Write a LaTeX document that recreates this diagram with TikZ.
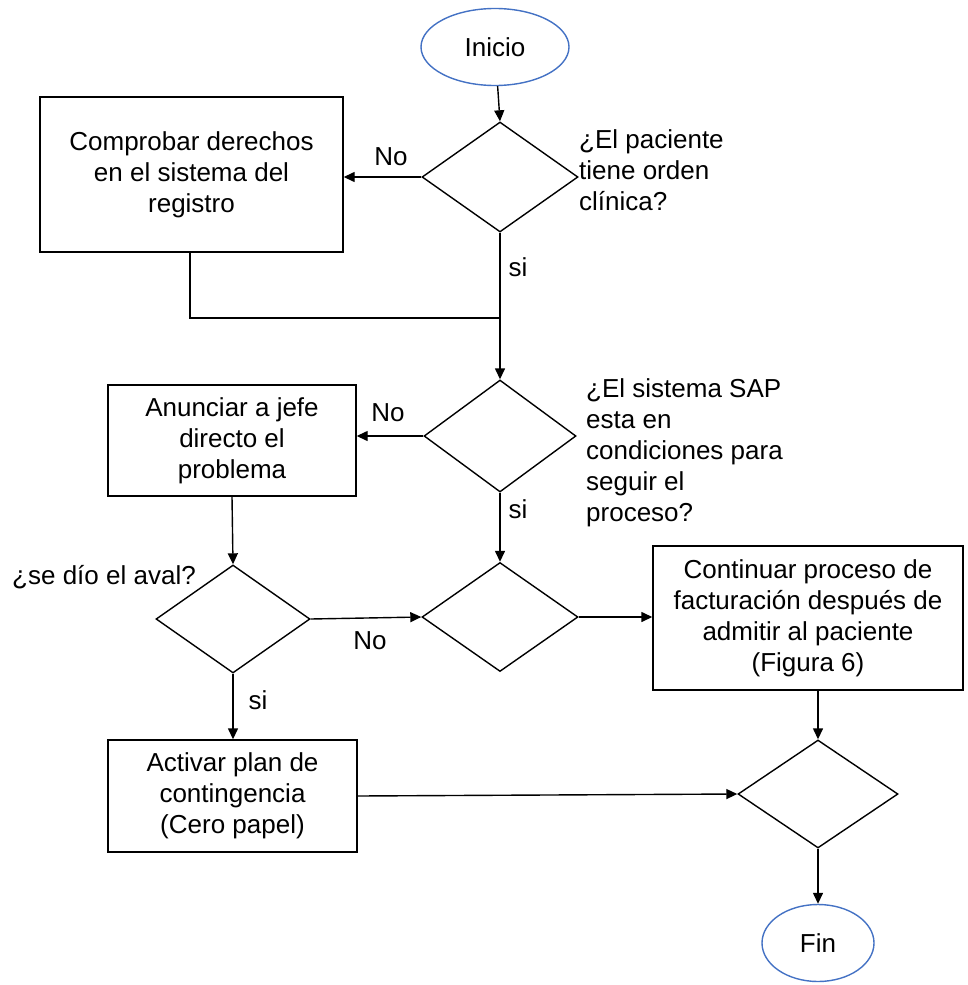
\documentclass[tikz,border=0pt]{standalone}
\usepackage{fontspec}
\setmainfont{Liberation Sans}
\usetikzlibrary{shapes.geometric,arrows.meta}
\definecolor{termblue}{RGB}{68,114,196}
\begin{document}
\begin{tikzpicture}[x=1pt,y=-1pt,
  every node/.style={font=\fontsize{26}{31}\selectfont},
  flow/.style={draw=black,line width=1.4pt},
  arrow/.style={flow,-{Triangle[length=11pt,width=10pt]}},
  terminal/.style={ellipse,draw=termblue,line width=1.4pt,inner sep=0pt},
  decision/.style={diamond,draw=black,line width=1.4pt,inner sep=0pt},
  process/.style={rectangle,draw=black,line width=1.4pt,align=center,inner sep=0pt},
  question/.style={align=left,inner sep=0pt,anchor=west},
  tag/.style={inner sep=0pt}]
\useasboundingbox (0,0) rectangle (968,985);

% start / end terminals
\node[terminal,minimum width=148pt,minimum height=77pt] (inicio) at (495,47) {Inicio};
\node[terminal,minimum width=112pt,minimum height=77pt] (fin) at (818,943) {Fin};

% decisions
\node[decision,minimum width=156pt,minimum height=110pt] (d1) at (500,177) {};
\node[decision,minimum width=152pt,minimum height=112pt] (d2) at (500,436) {};
\node[decision,minimum width=156pt,minimum height=109pt] (d3) at (500,617) {};
\node[decision,minimum width=154pt,minimum height=108pt] (d4) at (233,619) {};
\node[decision,minimum width=160pt,minimum height=108pt] (d5) at (818,794) {};

% process boxes
\node[process,minimum width=303pt,minimum height=155pt] (b1) at (191.5,174.5)
  {Comprobar derechos\\en el sistema del\\registro};
\node[process,minimum width=248pt,minimum height=111pt] (b2) at (232,440.5)
  {Anunciar a jefe\\directo el\\problema};
\node[process,minimum width=310pt,minimum height=144pt] (b3) at (808,618)
  {Continuar proceso de\\facturación después de\\admitir al paciente\\(Figura 6)};
\node[process,minimum width=249pt,minimum height=112pt] (b4) at (232.5,796)
  {Activar plan de\\contingencia\\(Cero papel)};

% questions beside the decisions
\node[question] (q1) at (579,170) {¿El paciente\\tiene orden\\clínica?};
\node[question] (q2) at (586,453) {¿El sistema SAP\\esta en\\condiciones para\\seguir el\\proceso?};
\node[tag] (q4) at (104,577) {¿se dío el aval?};

% branch labels
\node[tag] (no1) at (391,157) {No};
\node[tag] (si1) at (518,267) {si};
\node[tag] (no2) at (388,413) {No};
\node[tag] (si2) at (518,509) {si};
\node[tag] (no4) at (370,641) {No};
\node[tag] (si4) at (258,700) {si};

% connectors
\coordinate (join) at (500,318);
\draw[arrow] (inicio) -- (d1.north);
\draw[arrow] (d1.west) -- (b1.east |- d1.west);
\draw[flow] (b1.south -| 190,0) |- (join);
\draw[arrow] (d1.south) -- (d2.north);
\draw[arrow] (d2.west) -- (b2.east |- d2.west);
\draw[arrow] (d2.south) -- (d3.north);
\draw[arrow] (b2.south) -- (d4.north);
\draw[arrow] (d4.east) -- (d3.west);
\draw[arrow] (d3.east) -- (b3.west |- d3.east);
\draw[arrow] (d4.south) -- (b4.north -| d4.south);
\draw[arrow] (b4.east) -- (d5.west);
\draw[arrow] (d5.north |- b3.south) -- (d5.north);
\draw[arrow] (d5.south) -- (fin.north);
\end{tikzpicture}
\end{document}
